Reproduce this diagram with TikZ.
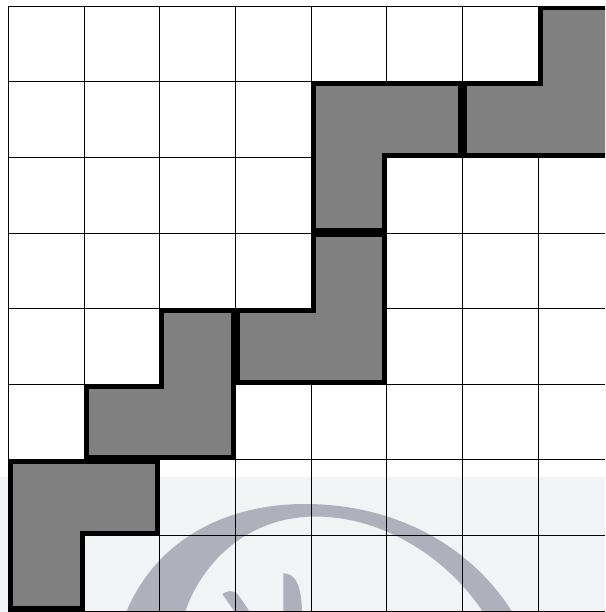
\documentclass[tikz,border=0pt]{standalone}
\definecolor{wmbg}{HTML}{F1F4F5}
\definecolor{wmink}{HTML}{AEB0BC}
\tikzset{
  gridline/.style={black,line width=0.8pt},
  tromino/.style={draw=black,fill={rgb,255:red,128;green,128;blue,128},line width=4.5pt,line join=miter},
}
\begin{document}
\begin{tikzpicture}[x=1pt,y=-1pt]
\useasboundingbox (0,0) rectangle (605,612);
\clip (0,0) rectangle (605,612);
\fill[white] (0,0) rectangle (605,612);
% watermark
\fill[wmbg] (0,476.7) rectangle (605,612);
\fill[wmink] (125,615) .. controls (155,540) and (225,504) .. (305,504)
  .. controls (400,504) and (475,550) .. (514,615)
  -- (485,615) .. controls (450,560) and (385,516.5) .. (315,516.5)
  .. controls (245,517) and (200,565) .. (184,615) -- cycle;
\fill[wmink] (283.3,615) -- (283.3,573.3) .. controls (295,573) and (302,585) .. (302,615) -- cycle;
\fill[wmink] (237,615) -- (222.3,594) .. controls (226,591) and (234,589) .. (238.3,595) -- (252,615) -- cycle;
% grid
\foreach \gx in {8.3,84,159.7,235.4,311.1,386.8,462.5,538.2}
  \draw[gridline] (\gx,6) -- (\gx,610.9);
\foreach \gy in {6,81.6,157.2,232.9,308.5,384.1,459.7,535.3,610.9}
  \draw[gridline] (8.3,\gy) -- (605,\gy);
% L-shaped pieces
\draw[tromino] (10.55,461.95) -- (157.45,461.95) -- (157.45,533.05) -- (81.75,533.05) -- (81.75,608.65) -- (10.55,608.65) -- cycle;
\draw[tromino] (161.95,310.75) -- (233.15,310.75) -- (233.15,457.45) -- (86.25,457.45) -- (86.25,386.35) -- (161.95,386.35) -- cycle;
\draw[tromino] (313.35,235.15) -- (384.55,235.15) -- (384.55,381.85) -- (237.65,381.85) -- (237.65,310.75) -- (313.35,310.75) -- cycle;
\draw[tromino] (313.35,83.85) -- (460.25,83.85) -- (460.25,154.95) -- (384.55,154.95) -- (384.55,230.65) -- (313.35,230.65) -- cycle;
\draw[tromino] (464.75,83.85) -- (540.45,83.85) -- (540.45,8.25) -- (611.65,8.25) -- (611.65,154.95) -- (464.75,154.95) -- cycle;
\end{tikzpicture}
\end{document}
